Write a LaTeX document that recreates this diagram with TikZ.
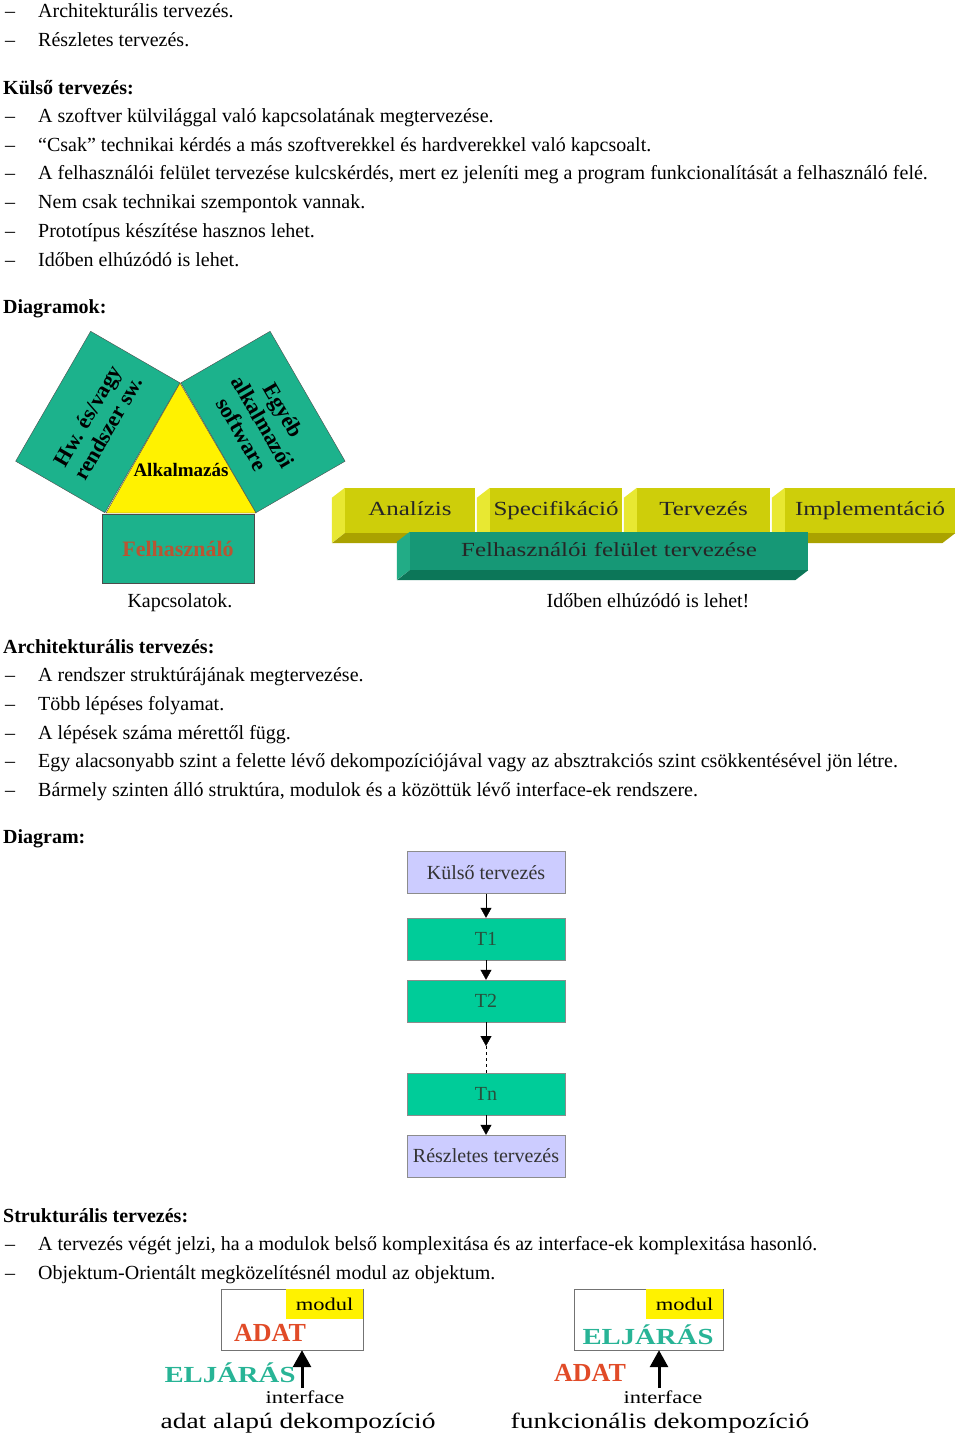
\documentclass[tikz,border=0pt]{standalone}
\usepackage{fontspec}
\setmainfont{Liberation Serif}
\newfontfamily\widefont[FakeStretch=1.25]{Liberation Serif}
\usetikzlibrary{arrows.meta}

\definecolor{pentgreen}{RGB}{28,178,140}
\definecolor{felhred}{RGB}{185,85,50}
\definecolor{barfront}{RGB}{206,206,10}
\definecolor{barside}{RGB}{232,232,50}
\definecolor{barbottom}{RGB}{170,162,0}
\definecolor{gbarfront}{RGB}{22,152,118}
\definecolor{gbarside}{RGB}{34,172,134}
\definecolor{gbarbottom}{RGB}{12,118,88}
\definecolor{flowgreen}{RGB}{0,204,153}
\definecolor{flowlila}{RGB}{204,204,255}
\definecolor{flowtext}{RGB}{40,80,60}
\definecolor{adatred}{RGB}{225,75,40}
\definecolor{eljteal}{RGB}{40,180,150}

\newcommand{\itm}{\makebox[33pt][l]{–}}

\begin{document}
\begin{tikzpicture}[x=1pt,y=-1pt,
  txt/.style={anchor=base west,inner sep=0pt,font=\fontsize{20}{24}\selectfont},
  head/.style={anchor=base west,inner sep=0pt,font=\fontsize{20}{24}\selectfont\bfseries},
  undertxt/.style={anchor=base,inner sep=0pt,font=\fontsize{20}{24}\selectfont},
  side box/.style={draw=black!70,fill=pentgreen,minimum width=150pt,minimum height=103pt,
    inner sep=0pt,align=center,font=\fontsize{22}{24}\selectfont\bfseries},
  bar/.style={fill=barfront,minimum height=45pt,inner sep=0pt,text=black!85,
    text height=14pt,text depth=4pt,font=\widefont\fontsize{20}{24}\selectfont},
  flow box/.style={draw=black!45,minimum width=158pt,minimum height=42pt,inner sep=0pt,
    font=\fontsize{20}{24}\selectfont},
  flow arrow/.style={-{Triangle[width=11pt,length=10pt]}},
  modul box/.style={draw=black!55,fill=white,minimum height=61pt,inner sep=0pt},
  modul tag/.style={fill=yellow,anchor=north east,minimum width=77pt,minimum height=30pt,
    inner sep=0pt,font=\widefont\fontsize{18}{20}\selectfont},
  big arrow/.style={line width=3pt,-{Triangle[width=18pt,length=17pt]}},
  small/.style={inner sep=0pt,font=\widefont\fontsize{18}{20}\selectfont},
  dekomp/.style={inner sep=0pt,font=\widefont\fontsize{22}{24}\selectfont}]

  \useasboundingbox[fill=white] (0,0) rectangle (960,1437);

  % szoveg
  \node[txt] (l1) at (5,17.5) {\itm Architekturális tervezés.};
  \node[txt] (l2) at (5,46.5) {\itm Részletes tervezés.};
  \node[head] (h1) at (3,94.5) {Külső tervezés:};
  \node[txt] (l3) at (5,122.5) {\itm A szoftver külvilággal való kapcsolatának megtervezése.};
  \node[txt] (l4) at (5,151.5) {\itm “Csak” technikai kérdés a más szoftverekkel és hardverekkel való kapcsoalt.};
  \node[txt] (l5) at (5,179.5) {\itm A felhasználói felület tervezése kulcskérdés, mert ez jeleníti meg a program funkcionalítását a felhasználó felé.};
  \node[txt] (l6) at (5,208.5) {\itm Nem csak technikai szempontok vannak.};
  \node[txt] (l7) at (5,237.5) {\itm Prototípus készítése hasznos lehet.};
  \node[txt] (l8) at (5,266.5) {\itm Időben elhúzódó is lehet.};
  \node[head] (h2) at (3,313.5) {Diagramok:};

  % kapcsolatok
  \coordinate (apex) at (180,383);
  \coordinate (bl) at (106,513);
  \coordinate (br) at (256,513);
  \node[side box,rotate=60] (hw) at (97.75,422) {Hw. és/vagy\\rendszer sw.};
  \node[side box,rotate=-60] (egyeb) at (263,422) {Egyéb\\alkalmazói\\software};
  \filldraw[fill=yellow,draw=black!70] (apex) -- (bl) -- (br) -- cycle;
  \node[font=\fontsize{19}{22}\selectfont\bfseries,inner sep=0pt] (alk) at (181,470) {Alkalmazás};
  \node[draw=black!70,fill=pentgreen,minimum width=152pt,minimum height=69pt,inner sep=0pt,
    text=felhred,font=\fontsize{22}{26}\selectfont\bfseries] (felh) at (178,548.5) {Felhasználó};

  % fazisok
  \node[bar,minimum width=130pt] (ana) at (410,510.5) {Analízis};
  \node[bar,minimum width=132pt] (spec) at (556,510.5) {Specifikáció};
  \node[bar,minimum width=133pt] (terv) at (703.5,510.5) {Tervezés};
  \node[bar,minimum width=170pt] (impl) at (870,510.5) {Implementáció};
  \fill[barside] (ana.north west) -- ++(-13,10) -- ++(0,45) -- (ana.south west) -- cycle;
  \fill[barbottom] (ana.south west) -- (ana.south east) -- ([shift={(-13,10)}]ana.south east) -- ([shift={(-13,10)}]ana.south west) -- cycle;
  \fill[barside] (spec.north west) -- ++(-13,10) -- ++(0,45) -- (spec.south west) -- cycle;
  \fill[barbottom] (spec.south west) -- (spec.south east) -- ([shift={(-13,10)}]spec.south east) -- ([shift={(-13,10)}]spec.south west) -- cycle;
  \fill[barside] (terv.north west) -- ++(-13,10) -- ++(0,45) -- (terv.south west) -- cycle;
  \fill[barbottom] (terv.south west) -- (terv.south east) -- ([shift={(-13,10)}]terv.south east) -- ([shift={(-13,10)}]terv.south west) -- cycle;
  \fill[barside] (impl.north west) -- ++(-13,10) -- ++(0,45) -- (impl.south west) -- cycle;
  \fill[barbottom] (impl.south west) -- (impl.south east) -- ([shift={(-13,10)}]impl.south east) -- ([shift={(-13,10)}]impl.south west) -- cycle;
  \node[bar,fill=gbarfront,minimum width=398pt,minimum height=38pt] (ui) at (609,551) {Felhasználói felület tervezése};
  \fill[gbarside] (ui.north west) -- ++(-13,10) -- ++(0,38) -- (ui.south west) -- cycle;
  \fill[gbarbottom] (ui.south west) -- (ui.south east) -- ([shift={(-13,10)}]ui.south east) -- ([shift={(-13,10)}]ui.south west) -- cycle;

  \node[undertxt] (cap1) at (180,607.5) {Kapcsolatok.};
  \node[undertxt] (cap2) at (648,607.5) {Időben elhúzódó is lehet!};

  \node[head] (h3) at (3,653.5) {Architekturális tervezés:};
  \node[txt] (l9) at (5,681.5) {\itm A rendszer struktúrájának megtervezése.};
  \node[txt] (l10) at (5,710.5) {\itm Több lépéses folyamat.};
  \node[txt] (l11) at (5,739.5) {\itm A lépések száma mérettől függ.};
  \node[txt] (l12) at (5,767.5) {\itm Egy alacsonyabb szint a felette lévő dekompozíciójával vagy az absztrakciós szint csökkentésével jön létre.};
  \node[txt] (l13) at (5,796.5) {\itm Bármely szinten álló struktúra, modulok és a közöttük lévő interface-ek rendszere.};
  \node[head] (h4) at (3,843.5) {Diagram:};

  % lepesek
  \node[flow box,fill=flowlila,text=black!80] (kulso) at (486,872.5) {Külső tervezés};
  \node[flow box,fill=flowgreen,text=flowtext] (t1) at (486,939) {T1};
  \node[flow box,fill=flowgreen,text=flowtext] (t2) at (486,1001) {T2};
  \node[flow box,fill=flowgreen,text=flowtext] (tn) at (486,1094) {Tn};
  \node[flow box,fill=flowlila,text=black!80] (resz) at (486,1156) {Részletes tervezés};
  \coordinate (gap) at (486,1046);
  \draw[flow arrow] (kulso) -- (t1);
  \draw[flow arrow] (t1) -- (t2);
  \draw[flow arrow] (t2) -- (gap);
  \draw[dashed] (gap) -- (tn);
  \draw[flow arrow] (tn) -- (resz);

  \node[head] (h5) at (3,1222.5) {Strukturális tervezés:};
  \node[txt] (l14) at (5,1250.5) {\itm A tervezés végét jelzi, ha a modulok belső komplexitása és az interface-ek komplexitása hasonló.};
  \node[txt] (l15) at (5,1279.5) {\itm Objektum-Orientált megközelítésnél modul az objektum.};

  % adat alapu
  \node[modul box,minimum width=142pt] (m1) at (292,1319.5) {};
  \node[modul tag] (tag1) at (m1.north east) {modul};
  \node[text=adatred,inner sep=0pt,font=\fontsize{26}{28}\selectfont\bfseries] (adat1) at (270,1333) {ADAT};
  \node[text=eljteal,inner sep=0pt,font=\widefont\fontsize{23}{26}\selectfont\bfseries] (elj1) at (230,1373) {ELJÁRÁS};
  \node[small,anchor=base] (int1) at (305,1403) {interface};
  \coordinate (if1) at (302,1388);
  \draw[big arrow] (if1) -- (if1 |- m1.south);
  \node[dekomp,anchor=base] (dek1) at (298,1428) {adat alapú dekompozíció};

  % funkcionalis
  \node[modul box,minimum width=149pt] (m2) at (648.5,1319.5) {};
  \node[modul tag] (tag2) at (m2.north east) {modul};
  \node[text=eljteal,inner sep=0pt,font=\widefont\fontsize{23}{26}\selectfont\bfseries] (elj2) at (648,1335) {ELJÁRÁS};
  \node[text=adatred,inner sep=0pt,font=\fontsize{26}{28}\selectfont\bfseries] (adat2) at (590,1373) {ADAT};
  \node[small,anchor=base] (int2) at (663,1403) {interface};
  \coordinate (if2) at (659,1388);
  \draw[big arrow] (if2) -- (if2 |- m2.south);
  \node[dekomp,anchor=base] (dek2) at (660,1428) {funkcionális dekompozíció};

\end{tikzpicture}
\end{document}
